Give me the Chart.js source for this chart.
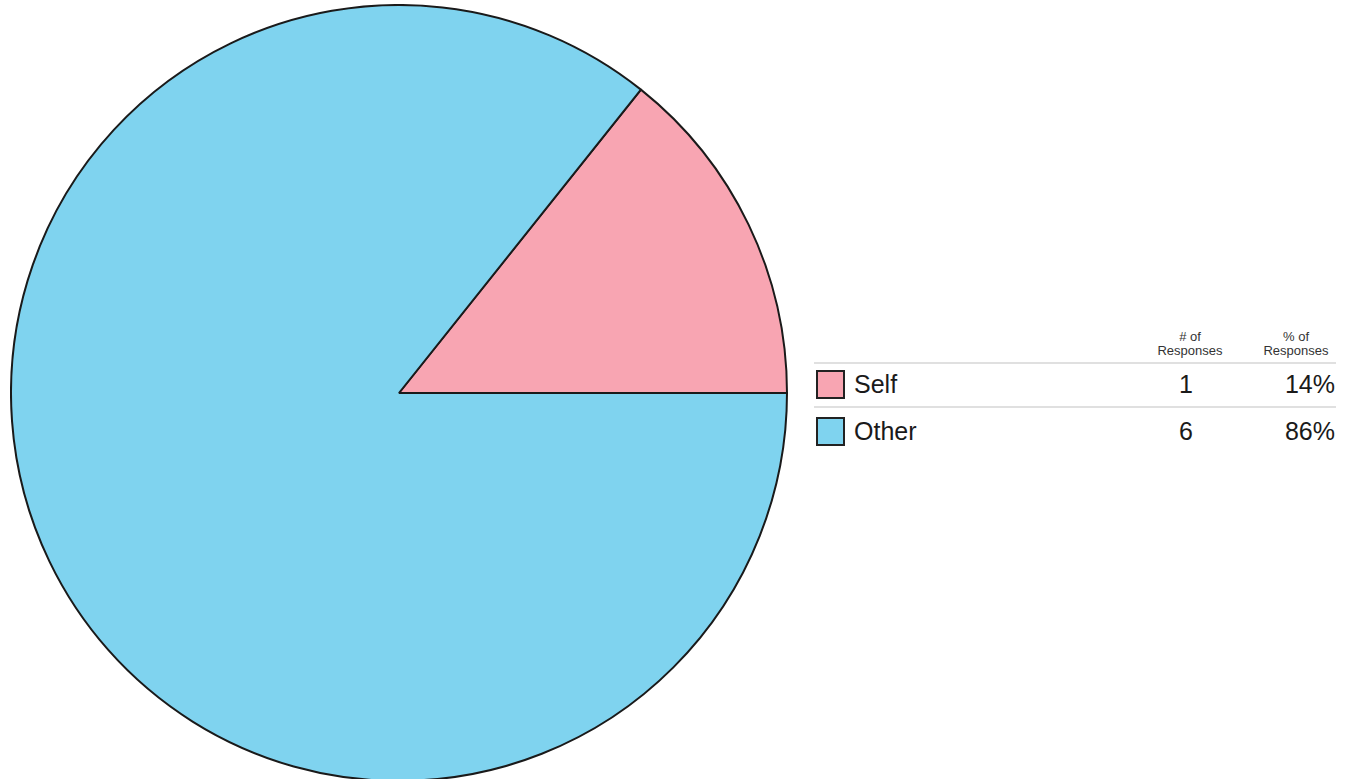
<!DOCTYPE html>
<html>
<head>
<meta charset="utf-8">
<script src="https://cdn.jsdelivr.net/npm/chart.js@4"></script>
<style>
  html, body { margin: 0; padding: 0; background: #fff; }
  body { width: 1351px; height: 779px; position: relative; overflow: hidden;
         font-family: "Liberation Sans", Arial, sans-serif; color: #1a1a1a; }
  #pieWrap { position: absolute; left: 10px; top: 4px; width: 778px; height: 778px; }
  #legend { position: absolute; left: 814px; top: 326px; width: 522px; }
  .hdr { position: absolute; top: 4px; font-size: 13px; line-height: 14px; text-align: center; width: 100px; color: #333; }
  .sep { position: absolute; left: 0; width: 522px; height: 0; border-top: 2px solid #e0e0e0; }
  .row { position: absolute; left: 0; width: 522px; height: 30px; font-size: 25px; line-height: 30px; }
  .sw { position: absolute; left: 2px; top: 1px; width: 25px; height: 25px; border: 2px solid #222; box-sizing: content-box; }
  .lbl { position: absolute; left: 40px; top: 0; }
  .num { position: absolute; right: 143px; top: 0; }
  .pct { position: absolute; right: 1px; top: 0; }
</style>
</head>
<body>
<div id="pieWrap"><canvas id="pie"></canvas></div>
<div id="legend"></div>
<script>
// ── Data ─────────────────────────────────────────────────────
const labels    = ['Self', 'Other'];
const responses = [1, 6];
const percents  = ['14%', '86%'];
const colors    = ['#F8A5B2', '#7FD3EF'];

// ── Pie ──────────────────────────────────────────────────────
new Chart(document.getElementById('pie'), {
  type: 'pie',
  data: {
    labels,
    datasets: [{
      data: responses,
      backgroundColor: colors,
      borderColor: '#1a1a1a',
      borderWidth: 2,
      borderAlign: 'center',
    }]
  },
  options: {
    responsive: true,
    maintainAspectRatio: false,
    animation: false,
    rotation: 90 - 360 / 7,
    layout: { padding: 0 },
    plugins: { legend: { display: false }, tooltip: { enabled: false } }
  }
});

// ── Legend table ─────────────────────────────────────────────
const leg = document.getElementById('legend');
leg.innerHTML =
  '<div class="hdr" style="left:326px"># of<br>Responses</div>' +
  '<div class="hdr" style="left:432px">% of<br>Responses</div>' +
  '<div class="sep" style="top:36px"></div>' +
  '<div class="sep" style="top:80px"></div>';
labels.forEach((lab, i) => {
  const row = document.createElement('div');
  row.className = 'row';
  row.style.top = (43 + i * 47) + 'px';
  row.innerHTML =
    '<div class="sw" style="background:' + colors[i] + '"></div>' +
    '<div class="lbl">' + lab + '</div>' +
    '<div class="num">' + responses[i] + '</div>' +
    '<div class="pct">' + percents[i] + '</div>';
  leg.appendChild(row);
});
</script>
</body>
</html>
